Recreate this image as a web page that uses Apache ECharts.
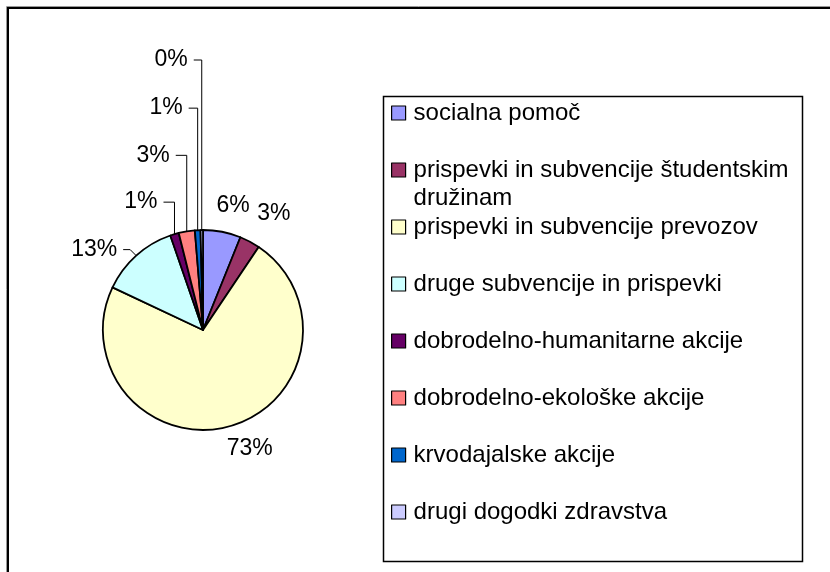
<!DOCTYPE html>
<html><head><meta charset="utf-8">
<script src="https://cdn.jsdelivr.net/npm/echarts@6/dist/echarts.min.js"></script>
<style>html,body{margin:0;padding:0;background:#fff}#c{width:830px;height:572px}</style>
</head><body><div id="c"></div>
<script>
const categories = [
  'socialna pomoč',
  'prispevki in subvencije študentskim družinam',
  'prispevki in subvencije prevozov',
  'druge subvencije in prispevki',
  'dobrodelno-humanitarne akcije',
  'dobrodelno-ekološke akcije',
  'krvodajalske akcije',
  'drugi dogodki zdravstva'
];
const shares = [6.1, 3.3, 72.6, 12.7, 1.4, 2.6, 0.9, 0.4];
const colors = ['#9999FF', '#993366', '#FFFFCC', '#CCFFFF', '#660066', '#FF8080', '#0066CC', '#CCCCFF'];

// label placement relative to the midpoint of each slice's outer edge
const labelPlacement = [
  {dx: 11, dy: -26, align: 'center', line: false},
  {dx: 24, dy: -28, align: 'center', line: false},
  {dx: 20, dy: 22, align: 'center', line: false},
  {dx: -19, dy: -6, align: 'right', line: true, elbow: 6},
  {dx: -17, dy: -32, align: 'right', line: true, elbow: 0},
  {dx: -17, dy: -76, align: 'right', line: true, elbow: 0},
  {dx: -15, dy: -122, align: 'right', line: true, elbow: 0},
  {dx: -14, dy: -170, align: 'right', line: true, elbow: 0}
];

const FONT = '"Liberation Sans", Arial, sans-serif';
const FS = 23;
const LFS = 24;
const CX = 203, CY = 330, R = 100;
const total = shares.reduce((a, b) => a + b, 0);

function edgePoint(i) {
  let before = 0;
  for (let k = 0; k < i; k++) before += shares[k];
  const mid = (before + shares[i] / 2) / total * 2 * Math.PI;
  return [CX + R * Math.sin(mid), CY - R * Math.cos(mid)];
}

const measureCtx = document.createElement('canvas').getContext('2d');
measureCtx.font = LFS + 'px ' + FONT;
const LEGEND_TEXT_W = 384;
function wrapName(name) {
  const words = name.split(' ');
  const lines = [];
  let cur = '';
  words.forEach(w => {
    const t = cur ? cur + ' ' + w : w;
    if (measureCtx.measureText(t).width > LEGEND_TEXT_W && cur) { lines.push(cur); cur = w; }
    else cur = t;
  });
  lines.push(cur);
  // three-line block so the first text line sits level with the legend square
  return ' \n' + lines.join('\n') + (lines.length === 1 ? '\n ' : '');
}

const chart = echarts.init(document.getElementById('c'), null, {renderer: 'canvas'});
chart.setOption({
  animation: false,
  backgroundColor: '#fff',
  graphic: [
    {type: 'rect', silent: true, shape: {x: 6.5, y: 6.5, width: 900, height: 700}, style: {fill: null, stroke: '#999', lineWidth: 1}},
    {type: 'rect', silent: true, shape: {x: 8, y: 8, width: 900, height: 700}, style: {fill: null, stroke: '#000', lineWidth: 2}},
    {type: 'rect', silent: true, shape: {x: 383.5, y: 96.5, width: 419, height: 465}, style: {fill: null, stroke: '#000', lineWidth: 1.5}}
  ],
  legend: {
    orient: 'vertical',
    left: 391,
    top: 71,
    padding: 0,
    itemGap: -27,
    itemWidth: 14,
    itemHeight: 14,
    icon: 'rect',
    selectedMode: false,
    itemStyle: {borderColor: '#000', borderWidth: 1.2},
    textStyle: {fontSize: LFS, fontFamily: FONT, color: '#000', lineHeight: 28, padding: [0, 0, 0, 3]},
    formatter: name => wrapName(name),
    data: categories
  },
  series: [{
    type: 'pie',
    center: [CX, CY],
    radius: R,
    startAngle: 90,
    clockwise: true,
    avoidLabelOverlap: false,
    emphasis: {disabled: true},
    itemStyle: {borderColor: '#000', borderWidth: 1.8},
    label: {
      show: true,
      position: 'outside',
      formatter: p => Math.round(p.percent) + '%',
      fontSize: FS,
      fontFamily: FONT,
      color: '#000'
    },
    labelLine: {show: true, length: 10, length2: 10, lineStyle: {color: '#000', width: 1}},
    labelLayout: function (p) {
      const i = p.dataIndex;
      const e = edgePoint(i);
      const s = labelPlacement[i];
      const x = e[0] + s.dx, y = e[1] + s.dy;
      const out = {x: x, y: y, align: s.align, verticalAlign: 'middle'};
      if (s.line) {
        out.labelLinePoints = [[e[0], e[1]], [e[0] - s.elbow, y], [x + 6, y]];
      }
      return out;
    },
    data: categories.map((n, i) => ({
      name: n,
      value: shares[i],
      itemStyle: {color: colors[i]},
      labelLine: {show: labelPlacement[i].line}
    }))
  }]
});
</script>
</body></html>
